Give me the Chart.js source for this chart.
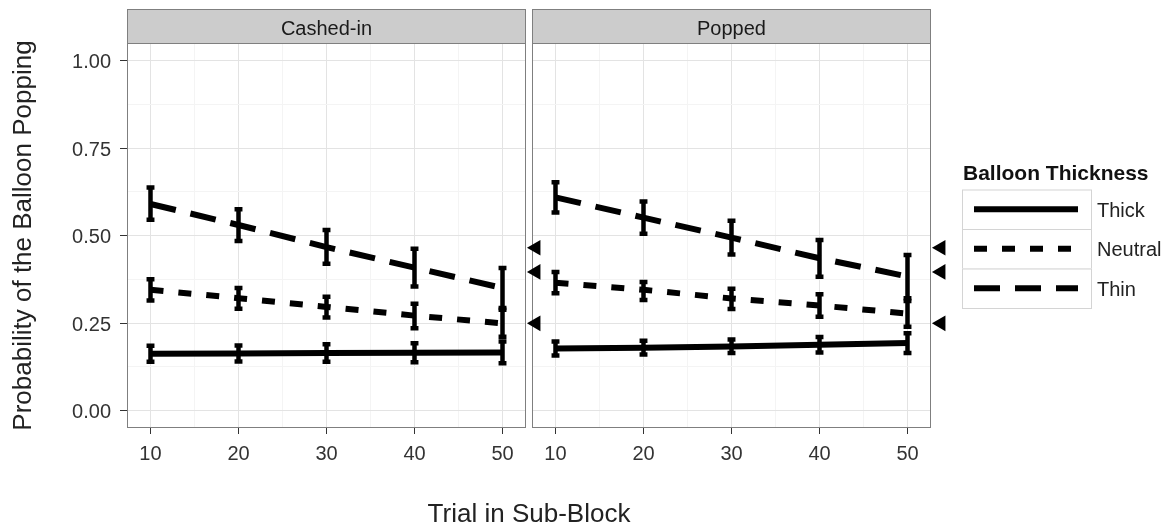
<!DOCTYPE html>
<html>
<head>
<meta charset="utf-8">
<script src="https://cdn.jsdelivr.net/npm/chart.js@4/dist/chart.umd.min.js"></script>
<style>
  html, body { margin: 0; padding: 0; background: #ffffff; }
  #wrap { position: relative; width: 1169px; height: 529px; }
  #wrap canvas { position: absolute; left: 0; top: 0; }
</style>
</head>
<body>
<div id="wrap">
  <canvas id="panelPopped" width="1169" height="529"></canvas>
  <canvas id="panelCashed" width="1169" height="529"></canvas>
</div>
<script>
// ---- data -------------------------------------------------------------
const trials = [10, 20, 30, 40, 50];
const panelTitles = ['Cashed-in', 'Popped'];
const thicknessLevels = ['Thick', 'Neutral', 'Thin'];

const xTickValues = [10, 20, 30, 40, 50];
const yTickValues = [0, 0.25, 0.5, 0.75, 1.0];

// Cashed-in panel
const cashedThickMean   = [0.162, 0.163, 0.164, 0.165, 0.166];
const cashedThickLow    = [0.139, 0.140, 0.139, 0.138, 0.135];
const cashedThickHigh   = [0.185, 0.186, 0.189, 0.192, 0.197];
const cashedNeutralMean = [0.345, 0.321, 0.296, 0.271, 0.249];
const cashedNeutralLow  = [0.314, 0.291, 0.266, 0.235, 0.211];
const cashedNeutralHigh = [0.375, 0.350, 0.325, 0.305, 0.288];
const cashedThinMean    = [0.590, 0.530, 0.467, 0.408, 0.350];
const cashedThinLow     = [0.545, 0.484, 0.419, 0.354, 0.293];
const cashedThinHigh    = [0.637, 0.575, 0.516, 0.462, 0.407];

// Popped panel
const poppedThickMean   = [0.177, 0.179, 0.183, 0.188, 0.193];
const poppedThickLow    = [0.157, 0.160, 0.164, 0.166, 0.164];
const poppedThickHigh   = [0.197, 0.199, 0.203, 0.210, 0.221];
const poppedNeutralMean = [0.365, 0.345, 0.320, 0.300, 0.277];
const poppedNeutralLow  = [0.335, 0.316, 0.290, 0.268, 0.239];
const poppedNeutralHigh = [0.396, 0.367, 0.348, 0.332, 0.313];
const poppedThinMean    = [0.609, 0.551, 0.494, 0.435, 0.383];
const poppedThinLow     = [0.566, 0.505, 0.446, 0.382, 0.321];
const poppedThinHigh    = [0.652, 0.597, 0.542, 0.487, 0.444];

// reference markers beside each panel
const markerTrial  = 53.8;
const markerLevels = [0.465, 0.396, 0.249];

// ---- styling ----------------------------------------------------------
const FONT = '"Liberation Sans", Arial, Helvetica, sans-serif';
Chart.defaults.font.family = FONT;
const INK = '#000000';
const TEXT = '#333333';
const GRID_MAJOR = '#e3e3e3';
const GRID_MINOR = '#f4f4f4';
const FRAME = '#7f7f7f';
const LINE_WIDTH = 6;
const DASHES = { Thick: [], Neutral: [13, 15], Thin: [26, 15] };
const CAP_HALF = 0.45;         // half width of error bar caps, in trial units
const X_MIN = 7.33, X_MAX = 52.67;
const Y_MIN = -0.05, Y_MAX = 1.05;

const CANVAS_W = 1169, CANVAS_H = 529;
const PANEL_TOP = 43, PANEL_BOTTOM = 428, STRIP_TOP = 9;
const X_AXIS_H = 60;

function midpoints(arr) {
  const out = [];
  for (let i = 0; i < arr.length - 1; i++) out.push((arr[i] + arr[i + 1]) / 2);
  return out;
}
const xGridValues = xTickValues.concat(midpoints(xTickValues)).sort((a, b) => a - b);
const yGridValues = yTickValues.concat(midpoints(yTickValues)).sort((a, b) => a - b);
const isMajor = (list, v) => list.some(t => Math.abs(t - v) < 1e-9);

function points(means) { return trials.map((t, i) => ({ x: t, y: means[i] })); }

function lineSet(level, mean, low, high) {
  return {
    label: level,
    data: points(mean),
    errLow: low,
    errHigh: high,
    showLine: true,
    borderColor: INK,
    backgroundColor: INK,
    borderWidth: LINE_WIDTH,
    borderDash: DASHES[level],
    borderCapStyle: 'butt',
    borderJoinStyle: 'miter',
    pointRadius: 0,
    tension: 0,
    fill: false
  };
}

// error bars drawn through the chart's own scales
const errorBarPlugin = {
  id: 'errorBars',
  afterDatasetsDraw(chart) {
    const ctx = chart.ctx, xs = chart.scales.x, ys = chart.scales.y;
    ctx.save();
    ctx.strokeStyle = INK;
    ctx.lineWidth = 4.5;
    ctx.lineCap = 'butt';
    ctx.setLineDash([]);
    chart.data.datasets.forEach(ds => {
      if (!ds.errLow) return;
      ds.data.forEach((p, i) => {
        const x = xs.getPixelForValue(p.x);
        const xl = xs.getPixelForValue(p.x - CAP_HALF);
        const xr = xs.getPixelForValue(p.x + CAP_HALF);
        const yl = ys.getPixelForValue(ds.errLow[i]);
        const yh = ys.getPixelForValue(ds.errHigh[i]);
        ctx.beginPath();
        ctx.moveTo(x, yl); ctx.lineTo(x, yh);
        ctx.moveTo(xl, yl); ctx.lineTo(xr, yl);
        ctx.moveTo(xl, yh); ctx.lineTo(xr, yh);
        ctx.stroke();
      });
    });
    ctx.restore();
  }
};

// left-pointing markers just outside the right edge of each panel
const markerPlugin = {
  id: 'sideMarkers',
  afterDraw(chart) {
    const ctx = chart.ctx, xs = chart.scales.x, ys = chart.scales.y;
    ctx.save();
    markerLevels.forEach(v => {
      Chart.helpers.drawPoint(ctx, {
        pointStyle: 'triangle',
        rotation: -90,
        radius: 9,
        borderWidth: 0
      }, xs.getPixelForValue(markerTrial), ys.getPixelForValue(v));
    });
    ctx.restore();
  }
};

// facet strip and panel frame
const panelFramePlugin = {
  id: 'panelFrame',
  beforeDatasetsDraw(chart, args, opts) {
    const { ctx, chartArea: a } = chart;
    ctx.save();
    ctx.strokeStyle = FRAME;
    ctx.lineWidth = 1;
    ctx.strokeRect(a.left + 0.5, a.top + 0.5, a.right - a.left - 1, a.bottom - a.top - 1);
    // strip
    ctx.fillStyle = '#cccccc';
    ctx.fillRect(a.left, STRIP_TOP, a.right - a.left, a.top - STRIP_TOP);
    ctx.strokeRect(a.left + 0.5, STRIP_TOP + 0.5, a.right - a.left - 1, a.top - STRIP_TOP);
    ctx.fillStyle = '#1a1a1a';
    ctx.font = '20px ' + FONT;
    ctx.textAlign = 'center';
    ctx.textBaseline = 'alphabetic';
    ctx.fillText(opts.title, (a.left + a.right) / 2, 35);
    ctx.restore();
  }
};

// shared x title and the line-type legend
const sharedAnnotationsPlugin = {
  id: 'sharedAnnotations',
  afterDraw(chart, args, opts) {
    if (!opts.enabled) return;
    const { ctx, chartArea: a } = chart;
    ctx.save();
    // x axis title, centred under both panels
    ctx.fillStyle = '#222222';
    ctx.font = '26px ' + FONT;
    ctx.textAlign = 'center';
    ctx.textBaseline = 'alphabetic';
    ctx.fillText('Trial in Sub-Block', opts.xTitleCenter, 522);

    // legend
    const lx = a.right + 31;
    const keyW = 130, keyH = 39.5;
    const firstKeyTop = 189.5;
    ctx.textAlign = 'left';
    ctx.fillStyle = '#111111';
    ctx.font = 'bold 21px ' + FONT;
    ctx.fillText('Balloon Thickness', lx + 1, 180);
    thicknessLevels.forEach((level, i) => {
      const top = firstKeyTop + i * keyH;
      ctx.fillStyle = '#ffffff';
      ctx.fillRect(lx, top, keyW, keyH);
      ctx.strokeStyle = '#d4d4d4';
      ctx.lineWidth = 1;
      ctx.setLineDash([]);
      ctx.strokeRect(lx + 0.5, top + 0.5, keyW - 1, keyH);
      const cy = top + keyH / 2;
      ctx.strokeStyle = INK;
      ctx.lineWidth = LINE_WIDTH;
      ctx.lineCap = 'butt';
      ctx.setLineDash(DASHES[level]);
      ctx.beginPath();
      ctx.moveTo(lx + 12, cy);
      ctx.lineTo(lx + 116, cy);
      ctx.stroke();
      ctx.setLineDash([]);
      ctx.fillStyle = '#222222';
      ctx.font = '20px ' + FONT;
      ctx.textBaseline = 'middle';
      ctx.fillText(level, lx + 135, cy + 2);
      ctx.textBaseline = 'alphabetic';
    });
    ctx.restore();
  }
};

function gridColor(list) {
  return c => (c.tick && isMajor(list, c.tick.value)) ? GRID_MAJOR : GRID_MINOR;
}
function tickMarkColor(list) {
  return c => (c.tick && isMajor(list, c.tick.value)) ? TEXT : 'rgba(0,0,0,0)';
}

function buildPanel(canvasId, title, sets, isFirst, panelLeft, panelRight, withAnnotations) {
  const yWidth = isFirst ? panelLeft : 0;
  return new Chart(document.getElementById(canvasId), {
    type: 'scatter',
    data: { datasets: sets },
    plugins: [panelFramePlugin, errorBarPlugin, markerPlugin, sharedAnnotationsPlugin],
    options: {
      responsive: false,
      animation: false,
      events: [],
      devicePixelRatio: 1,
      layout: {
        padding: {
          left: isFirst ? 0 : panelLeft,
          right: CANVAS_W - panelRight,
          top: PANEL_TOP,
          bottom: CANVAS_H - PANEL_BOTTOM - X_AXIS_H
        }
      },
      plugins: {
        legend: { display: false },
        tooltip: { enabled: false },
        panelFrame: { title: title },
        sharedAnnotations: { enabled: withAnnotations, xTitleCenter: 529 }
      },
      scales: {
        x: {
          type: 'linear',
          min: X_MIN,
          max: X_MAX,
          afterBuildTicks: s => { s.ticks = xGridValues.map(v => ({ value: v })); },
          afterFit: s => { s.height = X_AXIS_H; },
          border: { display: false },
          grid: {
            color: gridColor(xTickValues),
            lineWidth: 1,
            drawTicks: true,
            tickLength: 6,
            tickWidth: 1,
            tickColor: tickMarkColor(xTickValues)
          },
          ticks: {
            autoSkip: false,
            maxRotation: 0,
            minRotation: 0,
            padding: 8,
            color: TEXT,
            font: { size: 20 },
            callback: v => isMajor(xTickValues, v) ? String(v) : ''
          }
        },
        y: {
          type: 'linear',
          min: Y_MIN,
          max: Y_MAX,
          afterBuildTicks: s => { s.ticks = yGridValues.map(v => ({ value: v })); },
          afterFit: s => { s.width = yWidth; },
          border: { display: false },
          title: {
            display: isFirst,
            text: 'Probability of the Balloon Popping',
            color: '#222222',
            font: { size: 26 },
            padding: { top: 8, bottom: 0 }
          },
          grid: {
            color: gridColor(yTickValues),
            lineWidth: 1,
            drawTicks: isFirst,
            tickLength: 7,
            tickWidth: 1,
            tickColor: tickMarkColor(yTickValues)
          },
          ticks: {
            display: isFirst,
            autoSkip: false,
            padding: 9,
            labelOffset: 2,
            color: TEXT,
            font: { size: 20 },
            callback: v => isMajor(yTickValues, v) ? v.toFixed(2) : ''
          }
        }
      }
    }
  });
}

const cashedSets = [
  lineSet('Thick', cashedThickMean, cashedThickLow, cashedThickHigh),
  lineSet('Neutral', cashedNeutralMean, cashedNeutralLow, cashedNeutralHigh),
  lineSet('Thin', cashedThinMean, cashedThinLow, cashedThinHigh)
];
const poppedSets = [
  lineSet('Thick', poppedThickMean, poppedThickLow, poppedThickHigh),
  lineSet('Neutral', poppedNeutralMean, poppedNeutralLow, poppedNeutralHigh),
  lineSet('Thin', poppedThinMean, poppedThinLow, poppedThinHigh)
];

buildPanel('panelPopped', panelTitles[1], poppedSets, false, 532, 931, true);
buildPanel('panelCashed', panelTitles[0], cashedSets, true, 127, 526, false);
</script>
</body>
</html>
